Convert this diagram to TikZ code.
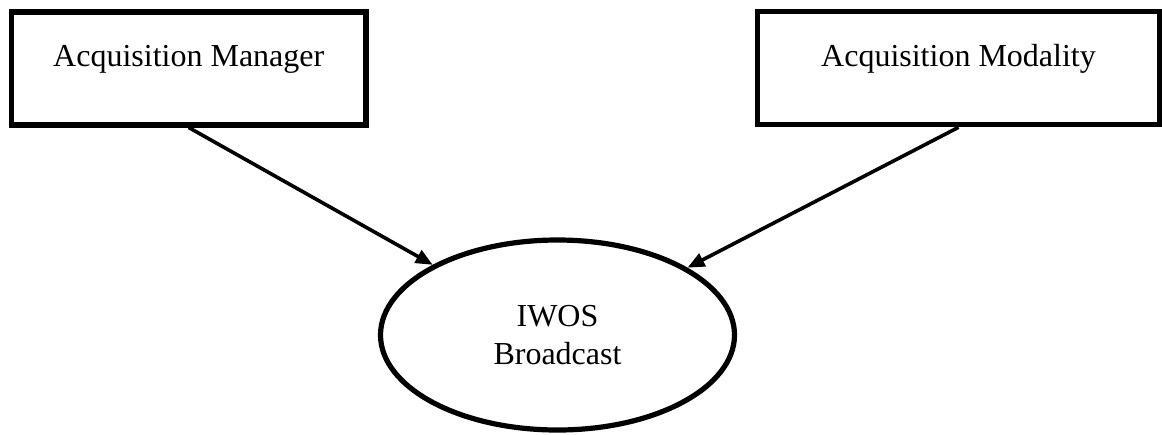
\documentclass[tikz,border=0pt]{standalone}
\usepackage{fontspec}
\setmainfont{Liberation Serif}
\usetikzlibrary{shapes.geometric,arrows.meta}

\tikzset{
  srcbox/.style={draw, line width=2.8pt, inner ysep=0pt, text height=27.5pt, text depth=29pt, font=\fontsize{16}{19.2}\selectfont},
  sink/.style={draw, ellipse, line width=2.6pt, align=center, font=\fontsize{16}{19.2}\selectfont},
  flow/.style={-{Triangle[length=8.5pt,width=7pt]}, line width=1.8pt}
}

\begin{document}
\begin{tikzpicture}
  \useasboundingbox (0,0) rectangle (20.42,-7.627);
  \node[srcbox, minimum width=6.23cm] (mgr) at (3.317,-1.199) {Acquisition Manager};
  \node[srcbox, minimum width=7.064cm] (mod) at (16.844,-1.195) {Acquisition Modality};
  \node[sink, minimum width=6.221cm, minimum height=3.339cm] (iwos) at (9.797,-5.887) {IWOS\\Broadcast};
  \draw[flow] (mgr.south) -- (iwos);
  \draw[flow] (mod.south) -- (iwos);
\end{tikzpicture}
\end{document}
